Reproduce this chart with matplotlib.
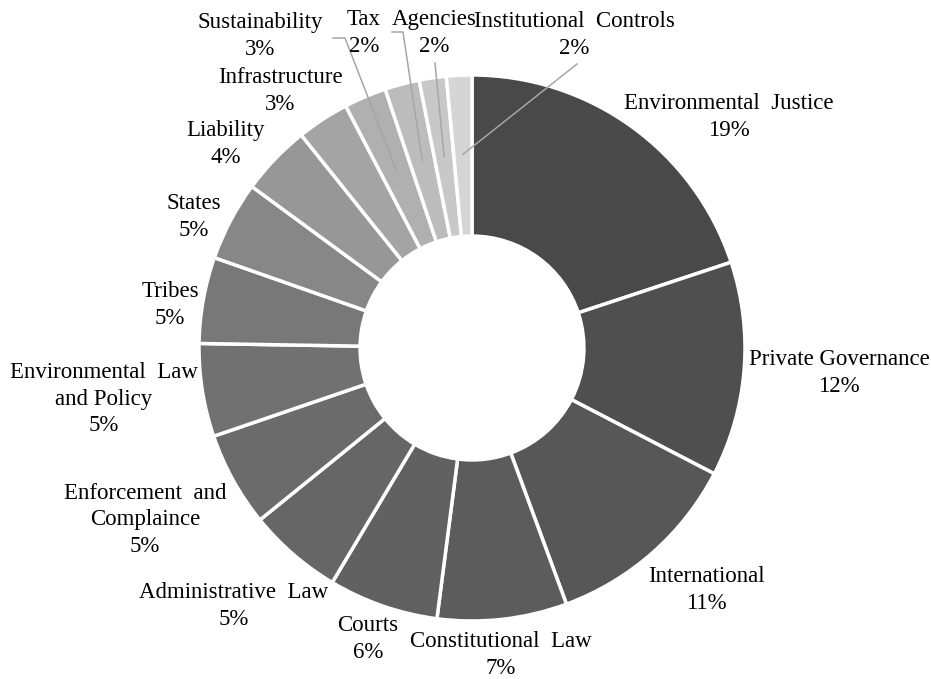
import numpy as np
import matplotlib.pyplot as plt

# slice sizes (share of total) and the printed labels
topics = ["Environmental  Justice", "Private Governance", "International",
          "Constitutional  Law", "Courts", "Administrative  Law",
          "Enforcement  and\nComplaince", "Environmental  Law\nand Policy",
          "Tribes", "States", "Liability", "Infrastructure", "Sustainability",
          "Tax", "Agencies", "Institutional  Controls"]
shares = [19.9, 12.7, 11.75, 7.67, 6.5, 5.6, 5.6, 5.5, 5.1, 4.7, 4.17,
          3.1, 2.5, 2.05, 1.6, 1.5]
pct_labels = [19, 12, 11, 7, 6, 5, 5, 5, 5, 5, 4, 3, 3, 2, 2, 2]

# grey ramp, darkest first
grays = ["#494949", "#4f4f4f", "#575757", "#5c5c5c", "#616161", "#666666",
         "#6b6b6b", "#717171", "#787878", "#878787", "#979797", "#a4a4a4",
         "#b0b0b0", "#bcbcbc", "#c8c8c8", "#d5d5d5"]

# label block centres in pixels (x from left, y from top)
label_pos = [(729, 117), (839, 373), (706, 590), (501, 655), (368, 639),
             (234, 606), (145, 520), (104, 399), (170, 305), (194, 217),
             (226, 144), (280, 91), (260, 36), (364, 33), (434, 33), (574, 35)]
# where leader lines leave the labels
leader_start = {12: [(333, 38), (345, 38)], 13: [(392, 32), (403, 32)],
                14: [(435, 63)], 15: [(577, 64)]}

W, H = 931, 679
cx, cy, R = 472, H - 348, 273

fig = plt.figure(figsize=(W / 100, H / 100), dpi=100)
ax = fig.add_axes([0, 0, 1, 1])

wedges, _ = ax.pie(shares, colors=grays, startangle=90, counterclock=False,
                   center=(cx, cy), radius=R, frame=True,
                   wedgeprops=dict(width=R * 0.59, edgecolor="white", linewidth=2.5))
ax.set_xlim(0, W)
ax.set_ylim(0, H)
ax.set_aspect("equal")
ax.axis("off")

for i, (name, p) in enumerate(zip(topics, pct_labels)):
    x, y = label_pos[i]
    ax.text(x, H - y, f"{name}\n{p}%", ha="center", va="center",
            fontsize=16.5, family=["Liberation Serif", "DejaVu Serif"],
            linespacing=1.34)

# leader lines for the thin slices
total = sum(shares)
cum = np.cumsum([0] + shares)
for i, pts in leader_start.items():
    mid = 90 - (cum[i] + shares[i] / 2) / total * 360
    ex = cx + 0.71 * R * np.cos(np.radians(mid))
    ey = cy + 0.71 * R * np.sin(np.radians(mid))
    xs = [p[0] for p in pts] + [ex]
    ys = [H - p[1] for p in pts] + [ey]
    ax.plot(xs, ys, color="#a6a6a6", lw=1.1)

fig.savefig("out.png", dpi=100, facecolor="white")
